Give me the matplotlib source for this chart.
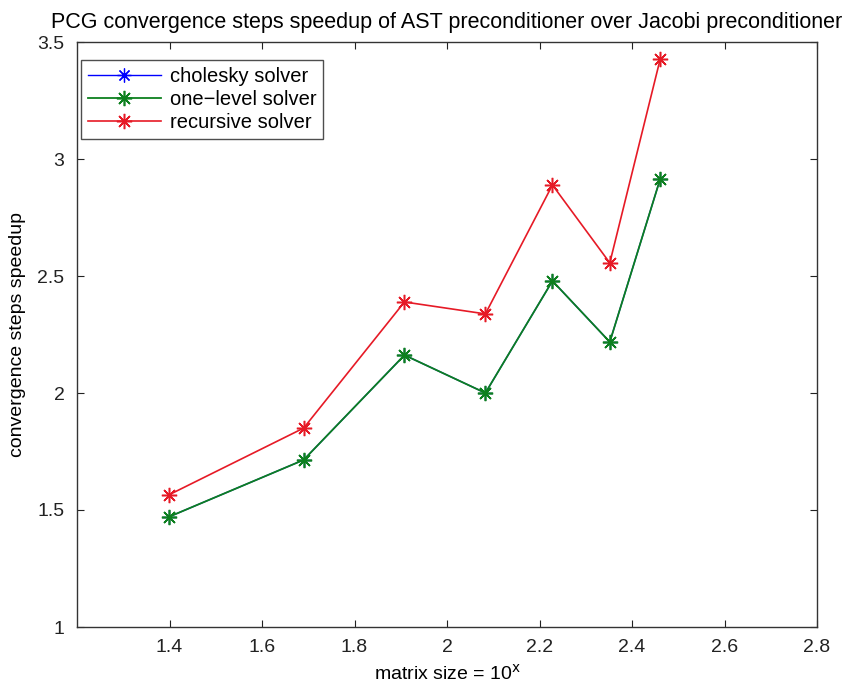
import matplotlib
matplotlib.use("Agg")
import matplotlib.pyplot as plt

plt.rcParams['font.family'] = ['Liberation Sans', 'DejaVu Sans']

x_vals = [1.398, 1.690, 1.908, 2.083, 2.228, 2.352, 2.461]
cholesky = [1.47, 1.714, 2.162, 2.0, 2.479, 2.218, 2.915]
one_level = [1.47, 1.714, 2.162, 2.0, 2.479, 2.218, 2.915]
recursive = [1.564, 1.85, 2.389, 2.338, 2.889, 2.556, 3.427]
x_ticks = [1.4, 1.6, 1.8, 2, 2.2, 2.4, 2.6, 2.8]
x_ticklabels = ['1.4', '1.6', '1.8', '2', '2.2', '2.4', '2.6', '2.8']
y_ticks = [1, 1.5, 2, 2.5, 3, 3.5]
y_ticklabels = ['1', '1.5', '2', '2.5', '3', '3.5']

fig = plt.figure(figsize=(8.45, 6.91), dpi=100)
ax = fig.add_axes([77/845, 64/691, 740/845, 585/691])

ast = (8, 2, 0)
ax.plot(x_vals, cholesky, color=(0, 0, 1), marker=ast, markersize=10, markeredgewidth=0.9, lw=1.0, label='cholesky solver')
ax.plot(x_vals, one_level, color=(0.05, 0.5, 0.12), marker=ast, markersize=11, markeredgewidth=1.2, lw=1.3, label='one\u2212level solver')
ax.plot(x_vals, recursive, color=(0.9, 0.1, 0.15), marker=ast, markersize=11, markeredgewidth=1.1, lw=1.2, label='recursive solver')

ax.set_xlim(1.2, 2.8)
ax.set_ylim(1, 3.5)
ax.set_xticks(x_ticks)
ax.set_xticklabels(x_ticklabels)
ax.set_yticks(y_ticks)
ax.set_yticklabels(y_ticklabels)
ax.tick_params(direction='in', top=True, right=True, length=5, width=0.8, labelsize=14, pad=9, colors='#222222')
for s in ax.spines.values():
    s.set_linewidth(1.0)
    s.set_color('#333333')

ax.set_xlabel('matrix size = 10$^{\\mathrm{x}}$', fontsize=14, labelpad=5)
ax.set_ylabel('convergence steps speedup', fontsize=14, labelpad=8)
ax.set_title('PCG convergence steps speedup of AST preconditioner over Jacobi preconditioner', fontsize=15.5, pad=10)

leg = ax.legend(loc='upper left', bbox_to_anchor=(4/740, 1 - 18/585), fontsize=14.5, frameon=True, fancybox=False,
                edgecolor='#222222', borderaxespad=0, handlelength=3.6, handletextpad=0.45,
                labelspacing=0.2, borderpad=0.35)
leg.get_frame().set_linewidth(1.0)

fig.savefig('out.png', dpi=100)
